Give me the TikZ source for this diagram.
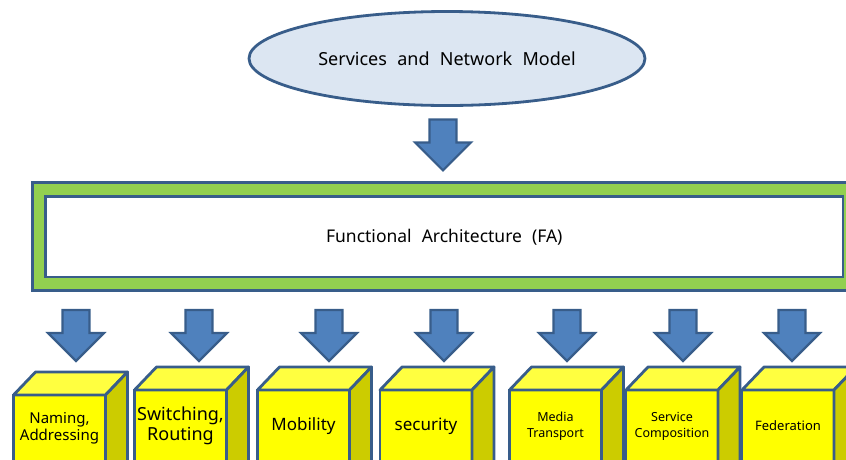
\documentclass[tikz,border=0pt]{standalone}
\usepackage{fontspec}
\setmainfont{Noto Sans}
\newfontfamily\widefont{Noto Sans}[WordSpace=2.2]
\usetikzlibrary{calc,shapes.geometric}
\definecolor{lineblue}{HTML}{385D8A}
\definecolor{arrowblue}{HTML}{4F81BD}
\definecolor{ellfill}{HTML}{DCE6F2}
\definecolor{fagreen}{HTML}{92D050}
\definecolor{cubefrontc}{HTML}{FFFF00}
\definecolor{cubetopc}{HTML}{FFFF40}
\definecolor{cubesidec}{HTML}{CCCC00}
\begin{document}
\begin{tikzpicture}[x=1pt,y=-1pt,
  blockarrow/.pic={\path[draw=lineblue,line width=2.2pt,fill=arrowblue,line join=miter]
     (-13.5,0) -- (13.5,0) -- (13.5,23) -- (28,23) -- (0,51) -- (-28,23) -- (-13.5,23) -- cycle;},
  cube/.style={rectangle,draw=lineblue,line width=2.8pt,fill=cubefrontc,minimum width=92pt,
     align=center,inner sep=0pt,outer sep=0pt,text=black},
  face/.style={draw=lineblue,line width=2.8pt,line join=round},
  box/.style={rectangle,draw=lineblue,line width=2.8pt,outer sep=0pt,inner sep=0pt},
]
\useasboundingbox (0,0) rectangle (846,459);
\clip (0,0) rectangle (846,459);

% top model
\node[ellipse,draw=lineblue,line width=2.8pt,fill=ellfill,minimum width=396pt,minimum height=94pt,
      inner sep=0pt,font=\widefont\fontsize{18}{20}\selectfont] (model) at (447,58.5)
      {Services and Network Model};

% functional architecture
\node[box,fill=fagreen,minimum width=840pt,minimum height=108pt] (faout) at (452.5,236.5) {};
\node[box,fill=white,minimum width=797.5pt,minimum height=80.5pt,
      font=\widefont\fontsize{17.5}{19}\selectfont] (fa) at (444.25,236.75)
      {Functional Architecture (FA)};

% arrow model -> FA
\path (model.south) ++(-4,12.5) pic {blockarrow};

% cubes
\node[cube,minimum height=66pt,font=\fontsize{15}{17}\selectfont] (c1) at (59.5,428) {Naming,\\Addressing};
\node[cube,minimum height=72pt,font=\fontsize{18}{19.5}\selectfont] (c2) at (180.5,426) {Switching,\\Routing};
\node[cube,minimum height=72pt,font=\fontsize{17}{19}\selectfont] (c3) at (303.5,426) {Mobility};
\node[cube,minimum height=72pt,font=\fontsize{17}{19}\selectfont] (c4) at (426,426) {security};
\node[cube,minimum height=72pt,font=\fontsize{12.5}{16}\selectfont] (c5) at (555.5,426) {Media\\Transport};
\node[cube,minimum height=72pt,font=\fontsize{12.5}{16}\selectfont] (c6) at (672,426) {Service\\Composition};
\node[cube,minimum height=72pt,font=\fontsize{13}{15}\selectfont] (c7) at (788,426) {Federation};

\foreach \n in {c1,c2,c3,c4,c5,c6,c7}{
  \draw[face,fill=cubetopc] (\n.north west) -- ++(22,-23) -- ($(\n.north east)+(22,-23)$) -- (\n.north east) -- cycle;
  \draw[face,fill=cubesidec] (\n.north east) -- ++(22,-23) -- ++(0,120) -- ($(\n.south east)+(0,30)$) -- cycle;
}

% arrows FA -> cubes
\foreach \x in {76,199,329,444,567,683,792}{
  \path (\x,310) pic {blockarrow};
}
\end{tikzpicture}
\end{document}
